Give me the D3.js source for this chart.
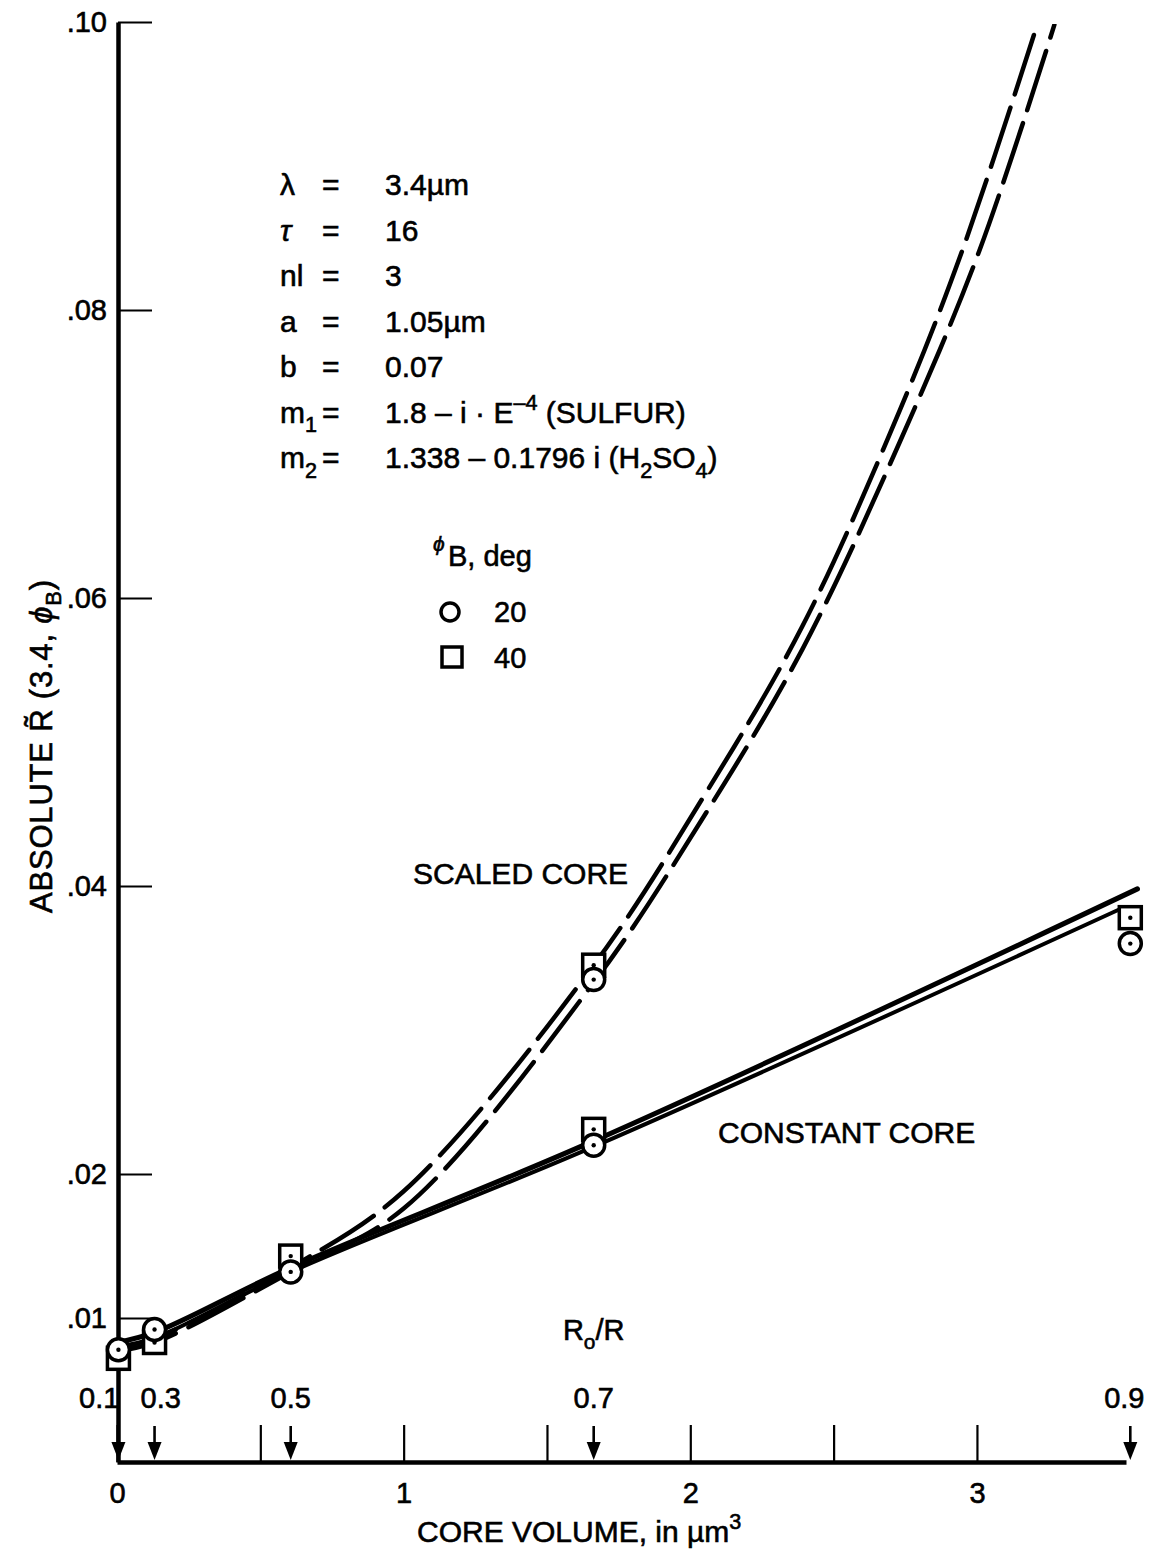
<!DOCTYPE html>
<html>
<head>
<meta charset="utf-8">
<script src="https://cdn.jsdelivr.net/npm/d3@7"></script>
<style>
  body { margin: 0; background: #fff; }
  svg { display: block; }
  text { font-family: "Liberation Sans", Arial, Helvetica, sans-serif; fill: #000; stroke: #000; stroke-width: 0.6px; }
</style>
</head>
<body>
<svg id="chart" width="1161" height="1558"></svg>
<script>
// ---- data -------------------------------------------------------------
// Core-to-particle radius ratios and the matching core volumes (µm³)
const radiusRatios = ["0.1", "0.3", "0.5", "0.7", "0.9"];
const ratioVolumes = [0.005, 0.131, 0.606, 1.663, 3.535];

// Computed reflectance, phi_B = 20 deg (circles)
const phi20Volumes = [0.005, 0.131, 0.606, 1.663, 1.663, 3.535];
const phi20Values  = [0.0078, 0.0092, 0.0132, 0.0335, 0.0220, 0.0360];

// Computed reflectance, phi_B = 40 deg (squares)
const phi40Volumes = [0.005, 0.131, 0.606, 1.663, 1.663, 3.535];
const phi40Values  = [0.0072, 0.0083, 0.0143, 0.0345, 0.0231, 0.0378];

// Faired curves, scaled core (dashed)
const scaledVolumesA = [0.0, 0.131, 0.606, 1.0, 1.663, 2.04, 2.39, 2.73, 2.95, 3.21];
const scaledValuesA  = [0.0080, 0.0086, 0.0135, 0.0188, 0.0345, 0.0460, 0.0580, 0.0730, 0.0842, 0.0998];
const scaledVolumesB = [0.0, 0.131, 0.606, 1.0, 1.663, 2.04, 2.39, 2.73, 3.01, 3.27];
const scaledValuesB  = [0.0077, 0.0083, 0.0132, 0.0176, 0.0333, 0.0446, 0.0564, 0.0708, 0.0842, 0.0998];

// Faired curves, constant core (solid)
const constVolumesA = [0.0, 0.131, 0.606, 1.663, 3.56];
const constValuesA  = [0.0083, 0.0090, 0.0135, 0.0223, 0.0398];
const constVolumesB = [0.0, 0.131, 0.606, 1.663, 3.50];
const constValuesB  = [0.0079, 0.0086, 0.0132, 0.0219, 0.0384];

// Axis ticks
const yTickValues = [0.01, 0.02, 0.04, 0.06, 0.08, 0.10];
const yTickLabels = [".01", ".02", ".04", ".06", ".08", ".10"];
const xTickValues = [0, 0.5, 1, 1.5, 2, 2.5, 3];
const xTickLabels = ["0", "", "1", "", "2", "", "3"];

// Parameter block
const paramSymbols = ["λ", "τ", "nl", "a", "b", "m_{1}", "m_{2}"];
const paramValues  = ["3.4µm", "16", "3", "1.05µm", "0.07",
                      "1.8 – i  · E^{–4} (SULFUR)", "1.338 – 0.1796 i (H_{2}SO_{4})"];

// Legend
const legendLabels = ["20", "40"];

// ---- drawing ------------------------------------------------------------
const svg = d3.select("#chart");
const FS = 29;

const x = d3.scaleLinear().domain([0, 3.52]).range([117, 1126]);
const y = d3.scaleLinear().domain([0, 0.10]).range([1462, 22]);

// writes "a_{b}" / "a^{b}" markup as tspans
function richText(sel, str, fs) {
  const parts = str.split(/(_\{[^}]*\}|\^\{[^}]*\})/).filter(s => s.length);
  let shift = 0;
  parts.forEach(p => {
    let target = 0, txt = p, size = fs;
    if (p.startsWith("_{")) { target = fs * 0.32; txt = p.slice(2, -1); size = fs * 0.72; }
    else if (p.startsWith("^{")) { target = -fs * 0.42; txt = p.slice(2, -1); size = fs * 0.72; }
    sel.append("tspan")
      .attr("dy", target - shift)
      .attr("font-size", size)
      .text(txt);
    shift = target;
  });
}

// clip for curves leaving the top of the frame
svg.append("clipPath").attr("id", "plotClip")
  .append("rect").attr("x", 110).attr("y", 24).attr("width", 1051).attr("height", 1450);

const line = d3.line()
  .x(d => x(d[0]))
  .y(d => y(d[1]))
  .curve(d3.curveCatmullRom.alpha(0.5));

const curves = svg.append("g").attr("clip-path", "url(#plotClip)")
  .attr("fill", "none").attr("stroke", "#000").attr("stroke-linecap", "round");

[[scaledVolumesA, scaledValuesA], [scaledVolumesB, scaledValuesB]].forEach(([vx, vy]) => {
  curves.append("path")
    .attr("d", line(d3.zip(vx, vy)))
    .attr("stroke-width", 4.5)
    .attr("stroke-dasharray", "62 14");
});
[[constVolumesA, constValuesA, 5], [constVolumesB, constValuesB, 4]].forEach(([vx, vy, w]) => {
  curves.append("path")
    .attr("d", line(d3.zip(vx, vy)))
    .attr("stroke-width", w);
});

// axes
const yAxis = d3.axisLeft(y)
  .tickValues(yTickValues)
  .tickFormat((d, i) => yTickLabels[i])
  .tickSizeInner(-34).tickSizeOuter(0).tickPadding(11);
const gy = svg.append("g").attr("transform", `translate(${x(0) + 1},0)`).call(yAxis);
gy.select(".domain").attr("stroke-width", 4.5);
gy.selectAll(".tick line").attr("stroke-width", 2.2);
gy.selectAll(".tick text").attr("font-size", FS).attr("font-family", null);

const xAxis = d3.axisBottom(x)
  .tickValues(xTickValues)
  .tickFormat((d, i) => xTickLabels[i])
  .tickSizeInner(-37).tickSizeOuter(0).tickPadding(20);
const gx = svg.append("g").attr("transform", `translate(0,${y(0)})`).call(xAxis);
gx.select(".domain").attr("stroke-width", 4.5);
gx.selectAll(".tick line").attr("stroke-width", 2.2);
gx.selectAll(".tick text").attr("font-size", FS).attr("font-family", null);

// R0/R arrows along the volume axis
const arrows = svg.append("g");
ratioVolumes.forEach((v, i) => {
  const ax = x(v), base = y(0) - 2;
  arrows.append("line")
    .attr("x1", ax).attr("x2", ax).attr("y1", base - 34).attr("y2", base - 12)
    .attr("stroke", "#000").attr("stroke-width", 2.6);
  arrows.append("path")
    .attr("d", `M${ax - 7},${base - 18} L${ax + 7},${base - 18} L${ax},${base} Z`)
    .attr("fill", "#000");
  const anchor = i === 0 ? "end" : (i === 1 ? "start" : "middle");
  const lx = i === 0 ? ax + 1 : (i === 1 ? ax - 14 : (i === 4 ? ax - 6 : ax));
  arrows.append("text")
    .attr("x", lx).attr("y", 1408)
    .attr("text-anchor", anchor).attr("font-size", FS)
    .text(radiusRatios[i]);
});
const r0 = svg.append("text").attr("x", x(ratioVolumes[3])).attr("y", 1340)
  .attr("text-anchor", "middle").attr("font-size", FS);
richText(r0, "R_{o}/R", FS);

// markers: squares (40 deg) then circles (20 deg)
const marks = svg.append("g");
d3.zip(phi40Volumes, phi40Values).forEach(([v, r]) => {
  marks.append("rect")
    .attr("x", x(v) - 11).attr("y", y(r) - 11).attr("width", 22).attr("height", 22)
    .attr("fill", "#fff").attr("stroke", "#000").attr("stroke-width", 3.5);
  marks.append("circle").attr("cx", x(v)).attr("cy", y(r)).attr("r", 2.2).attr("fill", "#000");
});
d3.zip(phi20Volumes, phi20Values).forEach(([v, r]) => {
  marks.append("circle")
    .attr("cx", x(v)).attr("cy", y(r)).attr("r", 11)
    .attr("fill", "#fff").attr("stroke", "#000").attr("stroke-width", 3.5);
  marks.append("circle").attr("cx", x(v)).attr("cy", y(r)).attr("r", 2.2).attr("fill", "#000");
});

// parameter block
const params = svg.append("g").attr("font-size", 30);
paramSymbols.forEach((s, i) => {
  const by = 195 + i * 45.5;
  const t1 = params.append("text").attr("x", 280).attr("y", by)
    .attr("font-style", s === "τ" ? "italic" : null);
  richText(t1, s, 30);
  params.append("text").attr("x", 322).attr("y", by).text("=");
  const t3 = params.append("text").attr("x", 385).attr("y", by);
  richText(t3, paramValues[i], 30);
});

// legend
const leg = svg.append("g").attr("font-size", FS);
leg.append("text").attr("x", 433).attr("y", 551).attr("font-size", 21)
  .attr("font-style", "italic").text("ϕ");
leg.append("text").attr("x", 448).attr("y", 566).text("B, deg");
leg.append("circle").attr("cx", 450).attr("cy", 612).attr("r", 9)
  .attr("fill", "#fff").attr("stroke", "#000").attr("stroke-width", 3.5);
leg.append("text").attr("x", 494).attr("y", 622).text(legendLabels[0]);
leg.append("rect").attr("x", 442).attr("y", 647).attr("width", 20).attr("height", 20)
  .attr("fill", "#fff").attr("stroke", "#000").attr("stroke-width", 3.5);
leg.append("text").attr("x", 494).attr("y", 668).text(legendLabels[1]);

// curve labels
svg.append("text").attr("x", 413).attr("y", 884).attr("font-size", 30).text("SCALED CORE");
svg.append("text").attr("x", 718).attr("y", 1143).attr("font-size", 30).text("CONSTANT CORE");

// axis titles
const xt = svg.append("text").attr("x", 417).attr("y", 1542).attr("font-size", 30);
richText(xt, "CORE VOLUME, in µm^{3}", 30);

const yt = svg.append("text")
  .attr("transform", "translate(52,913) rotate(-90)")
  .attr("font-size", 31).attr("letter-spacing", 0.8);
yt.append("tspan").text("ABSOLUTE R\u0303 (3.4, ");
yt.append("tspan").attr("font-style", "italic").text("ϕ");
yt.append("tspan").attr("dy", 9).attr("font-size", 22).text("B");
yt.append("tspan").attr("dy", -9).text(")");
</script>
</body>
</html>
